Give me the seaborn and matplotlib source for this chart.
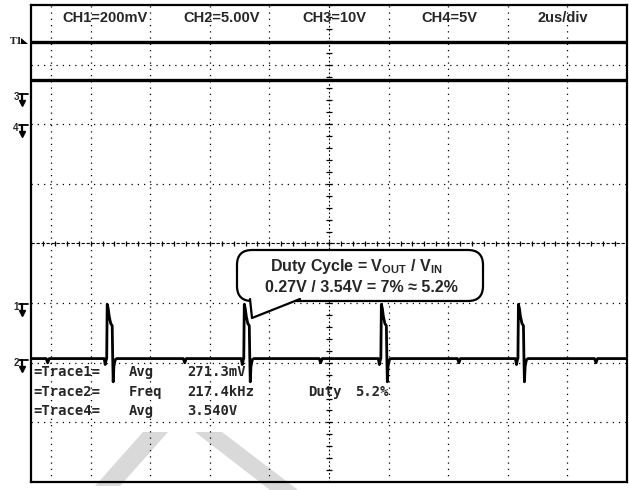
import numpy as np
import pandas as pd
import matplotlib
matplotlib.use("Agg")
import matplotlib.pyplot as plt
import seaborn as sns
from matplotlib.patches import FancyBboxPatch, Polygon

# ---------------- data ----------------
us_per_div = 2.0
n_xdiv = 10
n_ydiv = 8

header_labels = ["CH1=200mV", "CH2=5.00V", "CH3=10V", "CH4=5V", "2us/div"]

ch1_level_div = 3.38          # top flat trace
ch34_level_div = 2.74         # second flat trace
trace2_baseline_div = -1.93   # switching node baseline

pulse_rise_us = [2.54, 7.14, 11.74, 16.34]
pulse_dt_us = [-0.084, -0.050, -0.017, 0.0, 0.017, 0.050, 0.084, 0.134,
               0.185, 0.201, 0.218, 0.242, 0.285, 0.336]
pulse_level_div = [-1.93, -2.03, -1.95, -1.93, -1.02, -1.09, -1.22, -1.34,
                   -1.38, -1.90, -2.32, -2.06, -1.95, -1.93]

dip_us = [0.56, 5.16, 9.72, 14.36, 18.96]
dip_dt_us = [-0.05, 0.0, 0.05]
dip_level_div = [-1.93, -2.00, -1.93]

meas_names = ["=Trace1=", "=Trace2=", "=Trace4="]
meas_funcs = ["Avg", "Freq", "Avg"]
meas_values = ["271.3mV", "217.4kHz", "3.540V"]
duty_label = "Duty"
duty_value = "5.2%"

callout_line1 = "Duty Cycle = V$_{OUT}$ / V$_{IN}$"
callout_line2 = "0.27V / 3.54V = 7% \u2248 5.2%"

ground_markers = ["3", "4", "1", "2"]

# ---------------- build the switching trace ----------------
events = []
for t0 in pulse_rise_us:
    events.append((t0, pulse_dt_us, pulse_level_div))
for t0 in dip_us:
    events.append((t0, dip_dt_us, dip_level_div))
events.sort(key=lambda e: e[0])
tt = [0.0]
vv = [trace2_baseline_div]
for t0, dts, lv in events:
    for d, l in zip(dts, lv):
        tt.append(t0 + d)
        vv.append(l)
tt.append(n_xdiv * us_per_div)
vv.append(trace2_baseline_div)
trace2 = pd.DataFrame({"t": tt, "v": vv})
flat = pd.DataFrame({"t": [0.0, n_xdiv * us_per_div]})

# ---------------- style ----------------
sns.set_theme(style="white")
plt.rcParams['font.family'] = ['Liberation Sans', 'DejaVu Sans']
plt.rcParams['mathtext.fontset'] = 'custom'
plt.rcParams['mathtext.rm'] = 'Liberation Sans:bold'
plt.rcParams['mathtext.it'] = 'Liberation Sans:bold'
plt.rcParams['mathtext.bf'] = 'Liberation Sans:bold'
plt.rcParams['mathtext.default'] = 'rm'

W, H = 629, 490
fig = plt.figure(figsize=(W / 100, H / 100), dpi=100)
fig.patch.set_facecolor("white")
ax = fig.add_axes([31 / W, 8 / H, 596 / W, 477 / H])
xmax = n_xdiv * us_per_div
ax.set_xlim(0, xmax)
ax.set_ylim(-n_ydiv / 2, n_ydiv / 2)
ax.set_xticks([])
ax.set_yticks([])
ax.set_facecolor("white")
for s in ax.spines.values():
    s.set_color("black")
    s.set_linewidth(1.6)
    s.set_visible(True)

inch = fig.dpi_scale_trans


def P(px, py):
    return (px / 100.0, (H - py) / 100.0)


# watermark (light grey strokes)
for poly in ([(95, 486), (120, 486), (168, 432), (143, 432)],
             [(195, 432), (222, 432), (298, 490), (270, 490)]):
    ax.add_patch(Polygon([P(*p) for p in poly], closed=True, transform=inch,
                         facecolor="#d9d9d9", edgecolor="none", zorder=0.5,
                         clip_on=False))

# graticule
dots = (0, (1, 4))
for i in range(1, n_xdiv):
    if i == n_xdiv // 2:
        continue
    ax.axvline(i * us_per_div, color="black", lw=0.9, ls=dots, zorder=1)
for j in range(-n_ydiv // 2 + 1, n_ydiv // 2):
    if j == 0:
        continue
    ax.axhline(j, color="black", lw=0.9, ls=dots, zorder=1)
# cursor line
ax.axvline(0.67, color="black", lw=0.9, ls=dots, zorder=1)
# centre lines with minor ticks
ax.axvline(xmax / 2, color="black", lw=0.8, ls=(0, (1.5, 2)), zorder=1)
ax.axhline(0, color="black", lw=0.8, ls=(0, (3, 1.5)), zorder=1)
yt = np.arange(-n_ydiv / 2, n_ydiv / 2 + 0.01, 0.2)
ax.hlines(yt, xmax / 2 - 0.1, xmax / 2 + 0.1, color="black", lw=0.9, zorder=1)
xt = np.arange(0, xmax + 0.01, 0.4)
ax.vlines(xt, -0.05, 0.05, color="black", lw=0.9, zorder=1)

# traces
sns.lineplot(data=flat.assign(v=ch1_level_div), x="t", y="v", ax=ax,
             color="black", lw=2.4, zorder=3)
sns.lineplot(data=flat.assign(v=ch34_level_div), x="t", y="v", ax=ax,
             color="black", lw=2.4, zorder=3)
sns.lineplot(data=trace2, x="t", y="v", ax=ax, color="black", lw=2.0,
             sort=False, estimator=None, zorder=3)
ax.set_xlabel("")
ax.set_ylabel("")

# header labels
for lab, px in zip(header_labels, [62, 183, 302, 421, 538]):
    x, y = P(px, 18)
    ax.text(x, y, lab, transform=inch, ha="left", va="center",
            fontsize=10.5, fontweight="bold", zorder=5)

# measurement readout
mono = ["DejaVu Sans Mono"]
for k, (nm, fn, val) in enumerate(zip(meas_names, meas_funcs, meas_values)):
    py = [372, 392, 411][k]
    for txt, px in ((nm, 33), (fn, 129), (val, 187)):
        x, y = P(px, py)
        ax.text(x, y, txt, transform=inch, ha="left", va="center",
                fontsize=10, fontweight="bold", family=mono, zorder=5)
for txt, px in ((duty_label, 308), (duty_value, 355)):
    x, y = P(px, 392)
    ax.text(x, y, txt, transform=inch, ha="left", va="center",
            fontsize=10, fontweight="bold", family=mono, zorder=5)

# callout bubble
x0, y0 = P(237, 301)
x1, y1 = P(483, 250)
ax.add_patch(FancyBboxPatch((x0, y0), x1 - x0, y1 - y0,
                            boxstyle="round,pad=0,rounding_size=0.15",
                            transform=inch, facecolor="white",
                            edgecolor="black", lw=1.6, zorder=6,
                            clip_on=False))
tail = [P(250, 299), P(252, 318), P(300, 299)]
ax.add_patch(Polygon(tail, closed=True, transform=inch, facecolor="white",
                     edgecolor="none", zorder=6.5, clip_on=False))
ax.plot([tail[0][0], tail[1][0], tail[2][0]],
        [tail[0][1], tail[1][1], tail[2][1]], transform=inch,
        color="black", lw=1.6, zorder=7, clip_on=False)
x, y = P(356, 266)
ax.text(x, y, callout_line1, transform=inch, ha="center", va="center",
        fontsize=11.5, fontweight="bold", zorder=8)
x, y = P(361, 287)
ax.text(x, y, callout_line2, transform=inch, ha="center", va="center",
        fontsize=11.5, fontweight="bold", zorder=8)

# channel ground markers on the left edge
for lab, py in zip(ground_markers, [94, 125, 304, 360]):
    xa, ya = P(19, py)
    xb, yb = P(28, py)
    ax.plot([xa, xb], [ya, yb], transform=inch, color="black", lw=1.3,
            clip_on=False, zorder=5)
    xa, ya = P(21.5, py)
    xb, yb = P(21.5, py + 9)
    ax.plot([xa, xb], [ya, yb], transform=inch, color="black", lw=1.6,
            clip_on=False, zorder=5)
    ax.plot([xb], [yb], transform=inch, marker="v", ms=4.5, color="black",
            clip_on=False, zorder=5)
    xt_, yt_ = P(16, py + 3)
    ax.text(xt_, yt_, lab, transform=inch, ha="center", va="center",
            fontsize=7, fontweight="bold", zorder=5)

# trigger marker
x, y = P(16, 41)
ax.text(x, y, "T1", transform=inch, ha="center", va="center", fontsize=6.5,
        fontweight="bold", family=["DejaVu Serif"], zorder=5)
ax.add_patch(Polygon([P(21, 38), P(21, 44), P(28, 44)], closed=True,
                     transform=inch, facecolor="black", edgecolor="none",
                     clip_on=False, zorder=5))

fig.savefig("out.png", dpi=100, facecolor="white")
